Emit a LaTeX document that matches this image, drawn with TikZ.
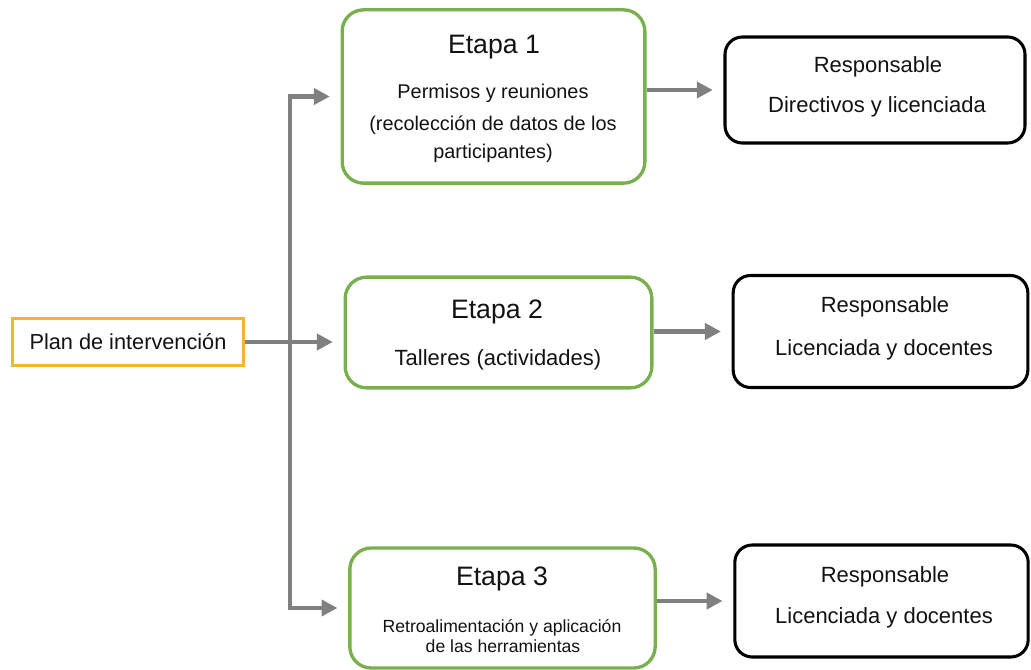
\documentclass[tikz,border=0pt]{standalone}
\usepackage{fontspec}
\setmainfont{Liberation Sans}
\usetikzlibrary{arrows.meta}
\definecolor{stagegreen}{RGB}{120,176,78}
\definecolor{plangold}{RGB}{238,184,42}
\definecolor{linkgray}{RGB}{128,128,128}
\definecolor{inkblack}{RGB}{18,18,18}
\tikzset{planbox/.style={draw=plangold, line width=2.4pt, inner sep=0pt,
           minimum width=173pt, minimum height=35pt, text=inkblack,
           font=\fontsize{16.3}{19}\selectfont},
         stagebox/.style={draw=stagegreen, line width=2.5pt, rounded corners=16pt,
           inner sep=0pt},
         whobox/.style={draw=black, line width=2.3pt, rounded corners=13pt,
           inner sep=0pt},
         stagetitle/.style={anchor=base, inner sep=0pt, text=inkblack,
           font=\fontsize{20}{23}\selectfont},
         bodytext/.style={anchor=base, inner sep=0pt, text=inkblack,
           font=\fontsize{#1}{#1}\selectfont},
         bodytext/.default={16.5},
         link/.style={draw=linkgray, line width=3.6pt, line join=miter,
           shorten >=8pt, -{Triangle[length=12pt,width=12pt]}}}

\begin{document}
\begin{tikzpicture}[x=0.75pt,y=-0.75pt]
  \useasboundingbox (0,0) rectangle (1031,670);
  % boxes
  \node[planbox] (plan) at (128,342) {Plan de intervención};
  \node[stagebox, minimum width=227pt, minimum height=130pt] (e1) at (493.5,96.5) {};
  \node[stagebox, minimum width=230pt, minimum height=83pt] (e2) at (498.5,332.5) {};
  \node[stagebox, minimum width=229pt, minimum height=90pt] (e3) at (502.5,608) {};
  \node[whobox, minimum width=225pt, minimum height=79.5pt] (r1) at (875,90) {};
  \node[whobox, minimum width=221pt, minimum height=84pt] (r2) at (880.5,331.5) {};
  \node[whobox, minimum width=220pt, minimum height=84pt] (r3) at (881.5,601) {};
  % texts
  \node[stagetitle] (e1t) at (494,54) {Etapa 1};
  \node[bodytext=14.9] (e1a) at (493,99) {Permisos y reuniones};
  \node[bodytext=14.9] (e1b) at (493,131) {(recolección de datos de los};
  \node[bodytext=14.9] (e1c) at (493,159) {participantes)};
  \node[stagetitle] (e2t) at (497,318) {Etapa 2};
  \node[bodytext] (e2a) at (498,365) {Talleres (actividades)};
  \node[stagetitle] (e3t) at (502,585) {Etapa 3};
  \node[bodytext=13.2] (e3a) at (502,632) {Retroalimentación y aplicación};
  \node[bodytext=13.2] (e3b) at (503,652) {de las herramientas};
  \node[bodytext] (r1t) at (878,73) {Responsable};
  \node[bodytext] (r1a) at (877,113) {Directivos y licenciada};
  \node[bodytext] (r2t) at (885,312) {Responsable};
  \node[bodytext] (r2a) at (884,355) {Licenciada y docentes};
  \node[bodytext] (r3t) at (885,582) {Responsable};
  \node[bodytext] (r3a) at (884,623) {Licenciada y docentes};
  % connectors
  \coordinate (trunk) at (290,0);
  \draw[link, shorten <=8pt, {Triangle[length=12pt,width=12pt]}-{Triangle[length=12pt,width=12pt]}]
    (e1.west) -- (e1.west -| trunk) -- (e3.west -| trunk) -- (e3.west);
  \draw[link] (plan.east) -- (plan.east -| e2.west);
  \draw[link] (r1.west -| e1.east) -- (r1.west);
  \draw[link] (r2.west -| e2.east) -- (r2.west);
  \draw[link] (r3.west -| e3.east) -- (r3.west);
\end{tikzpicture}
\end{document}
